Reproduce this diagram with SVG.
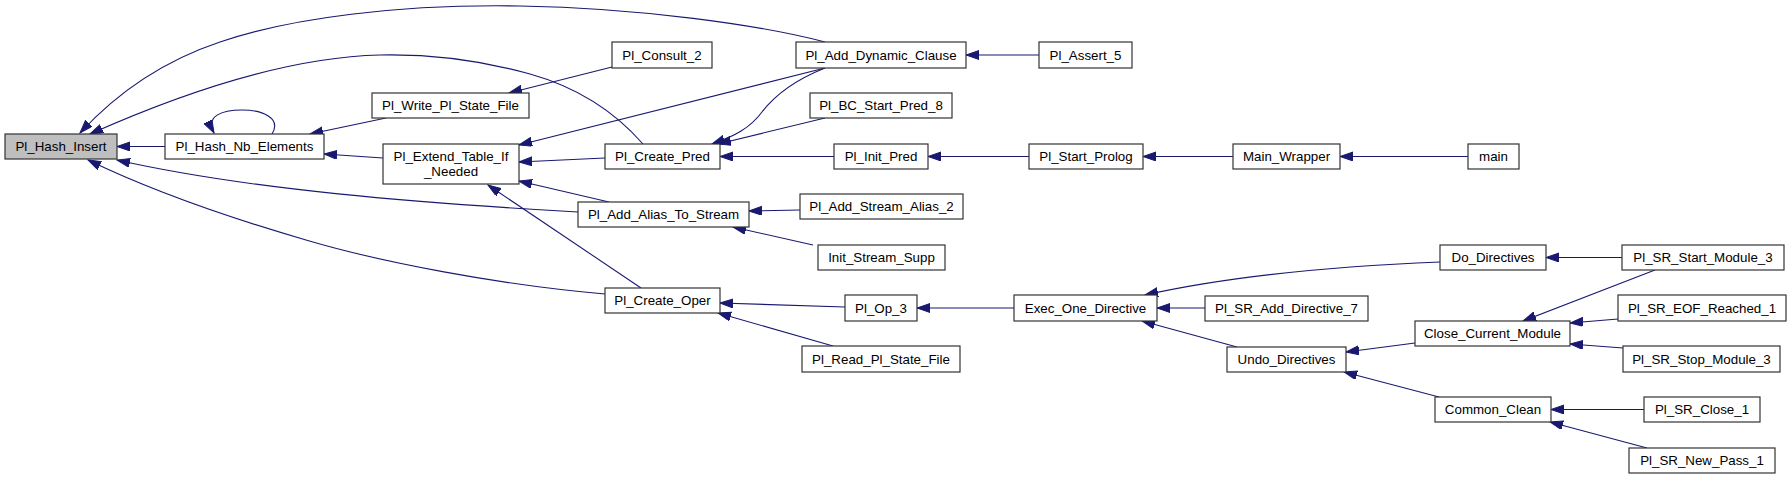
<svg xmlns="http://www.w3.org/2000/svg" width="1791" height="479" viewBox="0 0 1791 479">
<style>
.n rect{fill:#ffffff;stroke:#333333;stroke-width:1.2}
.n.g rect{fill:#bfbfbf}
.n text{font-family:"Liberation Sans",Arial,sans-serif;font-size:13.33px;fill:#000000;text-anchor:middle}
.e path{fill:none;stroke:#191970;stroke-width:1.1;marker-end:url(#ah)}
</style>
<defs>
<marker id="ah" markerUnits="userSpaceOnUse" viewBox="0 0 14 10" markerWidth="14" markerHeight="10" refX="13" refY="4.5" orient="auto">
<path d="M0,0 L13,4.5 L0,9 z" fill="#191970" stroke="#191970" stroke-width="1"/>
</marker>
</defs>
<rect width="1791" height="479" fill="#ffffff"/>
<g id="edges" class="e">
<path d="M165,146.5 L117,146.5"/>
<path d="M272,134 C282,118 262,110 242,110 C222,110 205,116 214,133"/>
<path d="M825,42 C760,25 640,8 520,6 C400,4 290,18 220,42 C160,62 115,95 80,133"/>
<path d="M643,144 C615,112 580,88 530,74 C480,60 430,54 380,55 C300,57 200,85 90,134"/>
<path d="M386,118 L310,134"/>
<path d="M383,158 L324,154"/>
<path d="M612,67 L509,93"/>
<path d="M825,68 L519,145"/>
<path d="M605,158 L519,162"/>
<path d="M609,202 L519,181"/>
<path d="M641,288 L488,185"/>
<path d="M578,212 C420,203 250,190 117,160"/>
<path d="M605,294 C500,285 380,262 306,240 C220,215 150,190 88,160"/>
<path d="M825,68 C795,80 775,95 762,112 C750,128 735,136 712,144"/>
<path d="M825,118 L718,144"/>
<path d="M834,156.5 L720,156.5"/>
<path d="M1029,156.5 L928,156.5"/>
<path d="M1233,156.5 L1143,156.5"/>
<path d="M1468,156.5 L1340,156.5"/>
<path d="M1039,55 L966,55"/>
<path d="M800,210 L749,211"/>
<path d="M813,245 L733,227"/>
<path d="M845,307 L720,303"/>
<path d="M833,346 L718,313"/>
<path d="M1014,308 L917,308"/>
<path d="M1440,262 C1340,266 1230,276 1145,295"/>
<path d="M1205,308 L1157,308"/>
<path d="M1237,347 L1142,321"/>
<path d="M1622,257.5 L1546,257.5"/>
<path d="M1415,343 L1346,352"/>
<path d="M1439,397 L1344,372"/>
<path d="M1655,270 L1523,321"/>
<path d="M1618,319 L1570,323"/>
<path d="M1623,348 L1570,344"/>
<path d="M1644,409.5 L1551,409.5"/>
<path d="M1647,448 L1550,422"/>
</g>
<g id="n_hash_insert" class="n g"><rect x="5" y="134" width="112" height="25"/><text x="61" y="151">Pl_Hash_Insert</text></g>
<g id="n_hash_nb_elements" class="n"><rect x="165" y="134" width="159" height="25"/><text x="244.5" y="151">Pl_Hash_Nb_Elements</text></g>
<g id="n_write_state" class="n"><rect x="372" y="93" width="157" height="25"/><text x="450.5" y="110">Pl_Write_Pl_State_File</text></g>
<g id="n_extend_table" class="n"><rect x="383" y="144" width="136" height="40"/><text x="451" y="161">Pl_Extend_Table_If</text><text x="451" y="176">_Needed</text></g>
<g id="n_consult_2" class="n"><rect x="612" y="42" width="100" height="26"/><text x="662" y="59.5">Pl_Consult_2</text></g>
<g id="n_add_dynamic_clause" class="n"><rect x="796" y="42" width="170" height="26"/><text x="881" y="59.5">Pl_Add_Dynamic_Clause</text></g>
<g id="n_assert_5" class="n"><rect x="1039" y="42" width="93" height="26"/><text x="1085.5" y="59.5">Pl_Assert_5</text></g>
<g id="n_bc_start_pred_8" class="n"><rect x="810" y="93" width="142" height="25"/><text x="881" y="110">Pl_BC_Start_Pred_8</text></g>
<g id="n_create_pred" class="n"><rect x="605" y="144" width="115" height="25"/><text x="662.5" y="161">Pl_Create_Pred</text></g>
<g id="n_init_pred" class="n"><rect x="834" y="144" width="94" height="25"/><text x="881" y="161">Pl_Init_Pred</text></g>
<g id="n_start_prolog" class="n"><rect x="1029" y="144" width="114" height="25"/><text x="1086" y="161">Pl_Start_Prolog</text></g>
<g id="n_main_wrapper" class="n"><rect x="1233" y="144" width="107" height="25"/><text x="1286.5" y="161">Main_Wrapper</text></g>
<g id="n_main" class="n"><rect x="1468" y="144" width="51" height="25"/><text x="1493.5" y="161">main</text></g>
<g id="n_add_alias_to_stream" class="n"><rect x="578" y="202" width="171" height="25"/><text x="663.5" y="219">Pl_Add_Alias_To_Stream</text></g>
<g id="n_add_stream_alias_2" class="n"><rect x="800" y="194" width="163" height="25"/><text x="881.5" y="211">Pl_Add_Stream_Alias_2</text></g>
<g id="n_init_stream_supp" class="n"><rect x="818" y="245" width="127" height="25"/><text x="881.5" y="262">Init_Stream_Supp</text></g>
<g id="n_create_oper" class="n"><rect x="605" y="288" width="115" height="25"/><text x="662.5" y="305">Pl_Create_Oper</text></g>
<g id="n_op_3" class="n"><rect x="845" y="295" width="72" height="26"/><text x="881" y="312.5">Pl_Op_3</text></g>
<g id="n_exec_one_directive" class="n"><rect x="1014" y="295" width="143" height="26"/><text x="1085.5" y="312.5">Exec_One_Directive</text></g>
<g id="n_read_state" class="n"><rect x="802" y="346" width="158" height="26"/><text x="881" y="363.5">Pl_Read_Pl_State_File</text></g>
<g id="n_do_directives" class="n"><rect x="1440" y="245" width="106" height="25"/><text x="1493" y="262">Do_Directives</text></g>
<g id="n_sr_start_module_3" class="n"><rect x="1622" y="245" width="162" height="25"/><text x="1703" y="262">Pl_SR_Start_Module_3</text></g>
<g id="n_sr_add_directive_7" class="n"><rect x="1205" y="296" width="163" height="25"/><text x="1286.5" y="313">Pl_SR_Add_Directive_7</text></g>
<g id="n_sr_eof_reached_1" class="n"><rect x="1618" y="295" width="168" height="26"/><text x="1702" y="312.5">Pl_SR_EOF_Reached_1</text></g>
<g id="n_close_current_module" class="n"><rect x="1415" y="321" width="155" height="25"/><text x="1492.5" y="338">Close_Current_Module</text></g>
<g id="n_undo_directives" class="n"><rect x="1227" y="347" width="119" height="25"/><text x="1286.5" y="364">Undo_Directives</text></g>
<g id="n_sr_stop_module_3" class="n"><rect x="1623" y="346" width="157" height="26"/><text x="1701.5" y="363.5">Pl_SR_Stop_Module_3</text></g>
<g id="n_common_clean" class="n"><rect x="1435" y="397" width="116" height="25"/><text x="1493" y="414">Common_Clean</text></g>
<g id="n_sr_close_1" class="n"><rect x="1644" y="397" width="116" height="25"/><text x="1702" y="414">Pl_SR_Close_1</text></g>
<g id="n_sr_new_pass_1" class="n"><rect x="1629" y="448" width="146" height="25"/><text x="1702" y="465">Pl_SR_New_Pass_1</text></g>
</svg>
